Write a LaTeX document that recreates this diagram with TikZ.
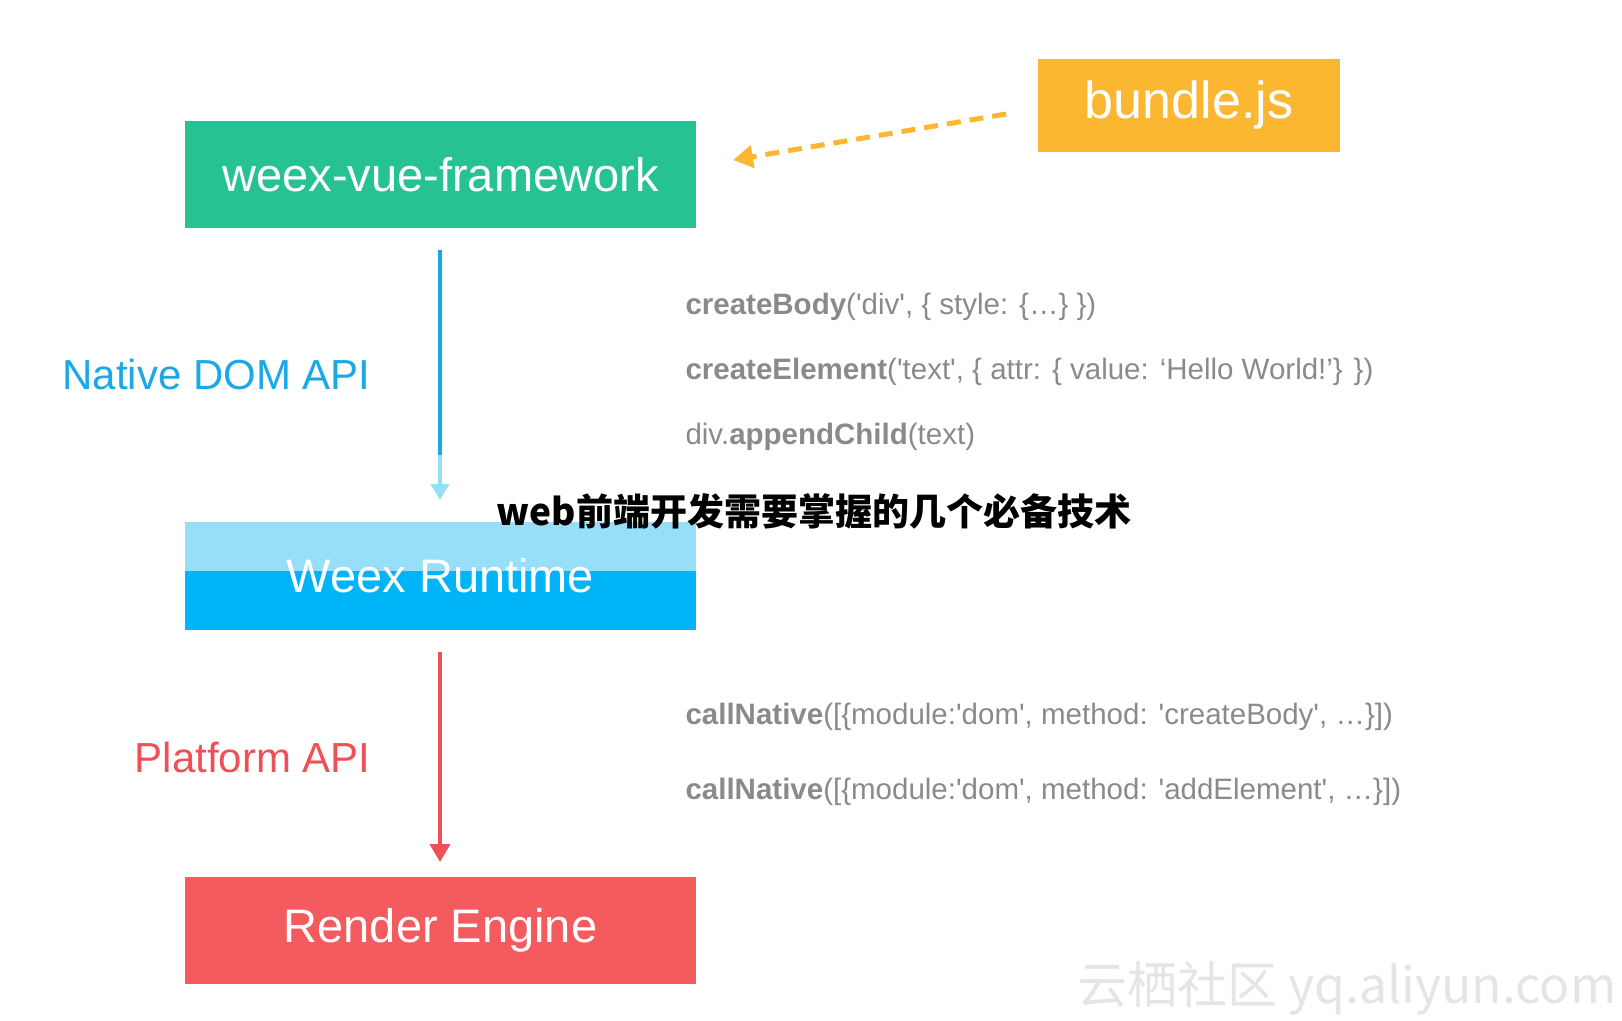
\documentclass[tikz,border=0pt]{standalone}
\usepackage{fontspec}
\setmainfont{Liberation Sans}
\newfontfamily\cjk{Noto Sans CJK SC}
\usetikzlibrary{arrows.meta}
\definecolor{gr}{HTML}{27C293}
\definecolor{og}{HTML}{FBB731}
\definecolor{bl}{HTML}{00B4F8}
\definecolor{lb}{HTML}{97DFF8}
\definecolor{rd}{HTML}{F45B5F}
\definecolor{ar}{HTML}{EF5057}
\definecolor{ab}{HTML}{1AA9E6}
\definecolor{cg}{HTML}{8A8A8A}
\newcommand{\sq}{\textquotesingle}
\begin{document}
\begin{tikzpicture}[x=1pt,y=-1pt,
  box/.style={minimum width=511pt,minimum height=107pt,inner sep=0pt,text=white,font=\fontsize{47}{50}\selectfont},
  code/.style={anchor=west,text=cg,font=\fontsize{29.5}{32}\selectfont},
  lab/.style={anchor=east,font=\fontsize{42}{46}\selectfont}]
\useasboundingbox (0,0) rectangle (1622,1020);
\node[box,fill=gr] (vue) at (440.5,174.5) {weex-vue-framework};
\node[box,fill=og,minimum width=302pt,minimum height=93pt,font=\fontsize{52}{56}\selectfont] (bundle) at (1189,105.5) {bundle.js};
\fill[bl] (185,522) rectangle (696,630);
\fill[lb] (185,522) rectangle (696,571);
\node[box] (rt) at (440.5,576) {Weex Runtime};
\node[box,fill=rd] (re) at (440.5,930.5) {Render Engine};
\coordinate (bs) at (1006,114);
\coordinate (be) at (733,160);
\draw[og,line width=5pt,dash pattern=on 14pt off 9pt,-{Triangle[length=20pt,width=22pt]}] (bs) -- (be);
\coordinate (a1) at (440,250);
\coordinate (a2) at (440,455);
\coordinate (a3) at (440,500);
\draw[ab,line width=4pt] (a1) -- (a2);
\draw[lb,line width=4pt,-{Triangle[length=16pt,width=18pt]}] (a2) -- (a3);
\coordinate (r1) at (440,652);
\coordinate (r2) at (440,862);
\draw[ar,line width=4pt,-{Triangle[length=18pt,width=20pt]}] (r1) -- (r2);
\node[lab,text=ab] (nd) at (374,374) {Native DOM API};
\node[lab,text=ar] (pa) at (374,757) {Platform API};
\node[code] (c1) at (682,307) {\textbf{createBody}(\sq div\sq, \{ style: \{…\} \})};
\node[code] (c2) at (682,372) {\textbf{createElement}(\sq text\sq, \{ attr: \{ value: ‘Hello World!’\} \})};
\node[code] (c3) at (682,437) {div.\textbf{appendChild}(text)};
\node[code] (c4) at (682,717) {\textbf{callNative}([\{module:\sq dom\sq, method: \sq createBody\sq, …\}])};
\node[code] (c5) at (682,792) {\textbf{callNative}([\{module:\sq dom\sq, method: \sq addElement\sq, …\}])};
\node[font=\cjk\bfseries\fontsize{37}{40}\selectfont] (t) at (814,511) {web前端开发需要掌握的几个必备技术};
\node[anchor=east,text=black!10,font=\cjk\fontsize{50}{54}\selectfont] (wm) at (1620,988) {云栖社区 yq.aliyun.com};
\end{tikzpicture}
\end{document}
